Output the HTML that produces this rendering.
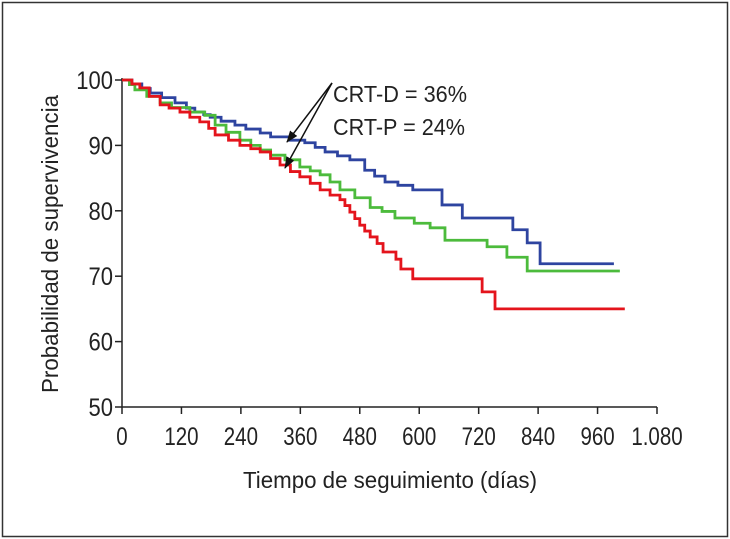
<!DOCTYPE html>
<html><head><meta charset="utf-8"><style>
body{margin:0;background:#fff}
svg{display:block;font-family:"Liberation Sans",sans-serif}
</style></head><body>
<svg width="730" height="539" viewBox="0 0 730 539">
<rect x="2.5" y="2.5" width="725" height="534" fill="#fff" stroke="#333" stroke-width="1.5"/>
<g id="plot"></g>
</svg>
<script>
const xTicks=[0,120,240,360,480,600,720,840,960,1080];
const xTickLabels=["0","120","240","360","480","600","720","840","960","1.080"];
const yTicks=[50,60,70,80,90,100];
const blueDays=[0,20,40,57,80,107,130,147,165,178,200,228,250,279,300,339,369,390,410,435,460,490,510,531,557,587,646,687,789,818,844];
const blueVals=[100,99.4,98.7,98,97.3,96.5,95.7,95.1,94.7,94.3,93.7,93.1,92.5,91.9,91.3,90.8,90.4,89.7,89,88.4,87.8,86.2,85.3,84.4,83.9,83.2,80.9,78.9,77.1,75.1,71.9];
const blueEnd=993;
const greenDays=[0,15,26,50,77,100,137,167,188,210,238,260,279,300,329,359,380,400,420,440,470,501,525,551,590,622,652,737,777,818];
const greenVals=[100,99.3,98.5,97.5,96.5,95.8,95.1,94.6,93.1,92,90.8,90,89.3,88.5,87.8,86.7,86.1,85.5,84.4,83.2,82,80.5,79.9,78.9,78.1,77.4,75.5,74.5,72.9,70.8];
const greenEnd=1005;
const redDays=[0,20,36,55,77,95,117,137,157,175,188,215,238,260,279,300,319,340,359,380,400,420,440,450,460,470,480,490,501,515,527,553,563,587,727,753];
const redVals=[100,99.4,98.8,97.5,96.2,95.7,95.1,94.3,93.6,92.6,91.6,90.8,90,89.5,89,88,87,86,85.2,84.2,83.2,82.4,81.7,80.8,79.8,78.8,77.8,76.9,76,75,73.7,72.6,71.1,69.6,67.6,65];
const redEnd=1015;

const X0=122,X1=657,Y0=407,Y1=80;
const xs=d=>X0+d*(X1-X0)/1080;
const ys=v=>Y0-(v-50)*(Y0-Y1)/50;
const NS="http://www.w3.org/2000/svg";
const g=document.getElementById('plot');
function mk(t,a,txt){const e=document.createElementNS(NS,t);for(const k in a)e.setAttribute(k,a[k]);if(txt!==undefined)e.textContent=txt;g.appendChild(e);return e;}

let e=mk('line',{x1:X0,y1:Y1-2,x2:X0,y2:Y0,stroke:'#222','stroke-width':1.5});


e=mk('line',{x1:X0,y1:Y0,x2:X1,y2:Y0,stroke:'#222','stroke-width':1.5});


xTicks.forEach((t,i)=>{
 let l=mk('line',{x1:xs(t),y1:Y0,x2:xs(t),y2:Y0+7,stroke:'#222','stroke-width':1.5});
 
 
 let tx=mk('text',{x:xs(t),y:Y0+38,'font-size':25,'text-anchor':'middle',fill:'#222',transform:`translate(${xs(t)},0) scale(0.82,1) translate(${-xs(t)},0)`},xTickLabels[i]);
 
 
});
yTicks.forEach(t=>{
 let l=mk('line',{x1:X0-7,y1:ys(t),x2:X0,y2:ys(t),stroke:'#222','stroke-width':1.5});
 
 
 let tx=mk('text',{x:X0-9,y:ys(t)+9,'font-size':25,'text-anchor':'end',fill:'#222',transform:`translate(${X0-9},0) scale(0.88,1) translate(${-(X0-9)},0)`},String(t));
 
 
});
e=mk('text',{x:390,y:488,'font-size':23,'text-anchor':'middle',fill:'#222',textLength:294,lengthAdjust:'spacingAndGlyphs'},'Tiempo de seguimiento (días)');


e=mk('text',{x:0,y:0,'font-size':23,'text-anchor':'middle',fill:'#222',transform:'translate(58,244) rotate(-90)',textLength:298,lengthAdjust:'spacingAndGlyphs'},'Probabilidad de supervivencia');



function curve(days,vals,end,color,name){
 let d=`M${xs(days[0])},${ys(vals[0])}`;
 for(let i=1;i<days.length;i++){d+=` H${xs(days[i])} V${ys(vals[i])}`;}
 d+=` H${xs(end)}`;
 let p=mk('path',{d:d,fill:'none',stroke:color,'stroke-width':2.8});
 
 
}
curve(blueDays,blueVals,blueEnd,'#2e44a0','crt-d-curve');
curve(greenDays,greenVals,greenEnd,'#4cbb3c','crt-p-curve');
curve(redDays,redVals,redEnd,'#e4141c','control-curve');

e=mk('text',{x:333,y:102,'font-size':23,fill:'#222',textLength:134,lengthAdjust:'spacingAndGlyphs'},'CRT-D = 36%');


e=mk('text',{x:333,y:135,'font-size':23,fill:'#222',textLength:132,lengthAdjust:'spacingAndGlyphs'},'CRT-P = 24%');


const defs=mk('defs',{});
const m=document.createElementNS(NS,'marker');
m.setAttribute('id','ah');m.setAttribute('markerWidth','12');m.setAttribute('markerHeight','10');m.setAttribute('refX','11');m.setAttribute('refY','5');m.setAttribute('orient','auto');m.setAttribute('markerUnits','userSpaceOnUse');
const mp=document.createElementNS(NS,'path');mp.setAttribute('d','M0,0.5 L12,5 L0,9.5 Z');mp.setAttribute('fill','#111');m.appendChild(mp);defs.appendChild(m);
e=mk('line',{x1:332,y1:83,x2:287,y2:142,stroke:'#111','stroke-width':1.5,'marker-end':'url(#ah)'});


e=mk('line',{x1:332,y1:83,x2:285,y2:168,stroke:'#111','stroke-width':1.5,'marker-end':'url(#ah)'});


</script>
</body></html>
